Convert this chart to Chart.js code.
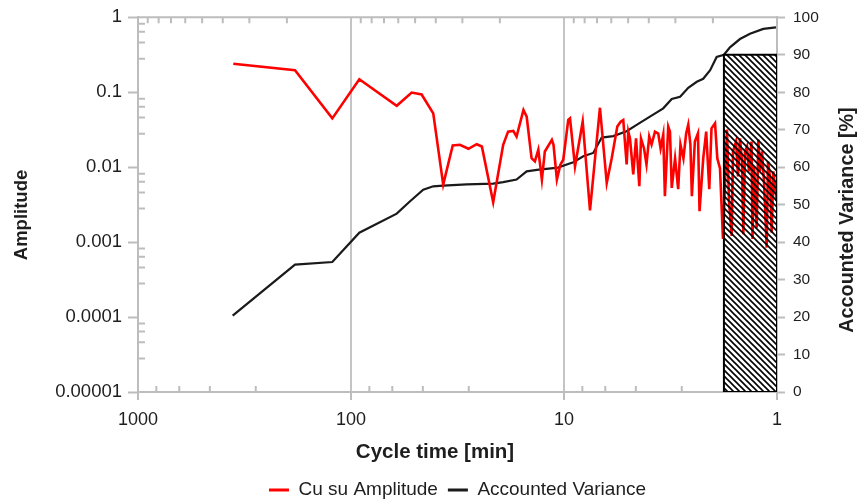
<!DOCTYPE html>
<html>
<head>
<meta charset="utf-8">
<script src="https://cdn.jsdelivr.net/npm/chart.js"></script>
<style>html,body{margin:0;padding:0;background:#fff;}canvas{display:block;}</style>
</head>
<body>
<canvas id="c" width="864" height="504"></canvas>
<script>
// ---------- data ----------
const redLabel = 'Cu su Amplitude';
const blackLabel = 'Accounted Variance';
const xTitle = 'Cycle time [min]';
const yTitle = 'Amplitude';
const y2Title = 'Accounted Variance [%]';

const redCycle = [357, 183.2, 122.4, 91.4, 61.0, 51.9, 46.6, 41.1, 36.9, 33.3, 30.8, 28.1, 25.7, 24.3, 21.5, 19.3, 18.3, 17.3, 16.7, 15.5, 14.97, 14.2, 13.7, 13.2, 12.7, 12.3, 11.4, 11.2, 10.8, 10.4, 10.08, 9.55, 9.37, 8.88, 8.17, 7.55, 6.78, 6.30, 5.97, 5.62, 5.42, 5.27, 5.08, 4.99, 4.90, 4.73, 4.59, 4.43, 4.35, 4.21, 4.10, 3.98, 3.88, 3.74, 3.61, 3.52, 3.42, 3.36, 3.24, 3.18, 3.12, 3.01, 2.91, 2.84, 2.75, 2.67, 2.61, 2.55, 2.51, 2.43, 2.35, 2.31, 2.22, 2.15, 2.08, 2.03, 1.954, 1.906, 1.852, 1.793, 1.717, 1.680, 1.632, 1.609, 1.557, 1.524, 1.492, 1.460, 1.439, 1.413, 1.383, 1.353, 1.317, 1.303, 1.282, 1.245, 1.224, 1.202, 1.176, 1.151, 1.118, 1.102, 1.079, 1.059, 1.041, 1.022, 1.005];
const redAmp = [0.240, 0.1964, 0.0448, 0.1492, 0.0660, 0.0991, 0.0932, 0.0522, 0.00586, 0.01946, 0.01988, 0.0176, 0.02025, 0.01888, 0.00341, 0.0199, 0.0298, 0.0305, 0.0256, 0.0579, 0.0472, 0.0132, 0.01194, 0.01707, 0.00683, 0.0162, 0.02315, 0.0199, 0.00683, 0.0108, 0.01258, 0.0427, 0.0448, 0.01025, 0.0405, 0.00265, 0.0621, 0.00615, 0.0132, 0.0348, 0.0405, 0.0427, 0.0109, 0.0298, 0.0241, 0.00803, 0.0243, 0.00556, 0.0241, 0.01776, 0.0109, 0.0256, 0.02006, 0.0298, 0.0281, 0.01776, 0.0272, 0.0041, 0.0348, 0.0298, 0.00528, 0.01308, 0.00508, 0.02006, 0.01308, 0.0281, 0.0369, 0.02006, 0.0041, 0.022, 0.0283, 0.00259, 0.01308, 0.0298, 0.00508, 0.033, 0.0385, 0.01308, 0.00964, 0.0011, 0.0317, 0.00352, 0.00121, 0.0162, 0.022, 0.00755, 0.0243, 0.01194, 0.00127, 0.0162, 0.01888, 0.0088, 0.022, 0.0011, 0.01025, 0.00156, 0.02337, 0.0088, 0.0162, 0.00648, 0.000845, 0.01194, 0.00755, 0.00134, 0.0088, 0.00556, 0.00352];

const blackCycle = [359.3, 183.2, 122.4, 91.4, 61.0, 52.8, 45.8, 41.1, 36.9, 28.6, 21.5, 19.3, 16.7, 14.97, 13.4, 10.67, 9.71, 9.04, 8.12, 7.29, 6.65, 5.87, 5.08, 4.56, 3.95, 3.42, 3.12, 2.85, 2.61, 2.38, 2.22, 2.06, 1.92, 1.774, 1.663, 1.492, 1.339, 1.160, 1.011];
const blackVar = [20.4, 34.0, 34.7, 42.5, 47.6, 50.9, 54.0, 54.9, 55.1, 55.4, 55.6, 56.0, 56.7, 58.9, 59.3, 59.9, 60.7, 61.3, 62.9, 63.8, 67.9, 68.3, 69.6, 71.3, 73.5, 75.7, 78.2, 78.8, 81.2, 82.8, 83.6, 85.9, 89.4, 90.0, 92.0, 94.2, 95.6, 96.9, 97.3];

// hatched band (cycle time 1.775 .. 1 min, 0 .. 90 %)
const bandCycle = [1.775, 1];
const bandTop = [90, 90];
const bandOutlineCycle = [1.775, 1.775, 1, 1, 1.775];
const bandOutlineVar = [0, 90, 90, 0, 0];

// axes ticks
const xTickValues = [1, 10, 100, 1000];
const xTickLabels = ['1', '10', '100', '1000'];
const yTickValues = [0.00001, 0.0001, 0.001, 0.01, 0.1, 1];
const yTickLabels = ['0.00001', '0.0001', '0.001', '0.01', '0.1', '1'];
const y2TickValues = [0, 10, 20, 30, 40, 50, 60, 70, 80, 90, 100];
const xTopMinor = [900, 800, 700, 600, 500, 400, 300, 200, 90, 80, 70, 60, 50, 40, 30, 20, 9, 8, 7, 6, 5, 4, 3, 2];
const xBottomMinor = [820, 640, 460, 280, 82, 64, 46, 28, 8.2, 6.4, 4.6, 2.8];
const yLeftMinor = [0.82, 0.64, 0.46, 0.28, 0.082, 0.064, 0.046, 0.028, 0.0082, 0.0064, 0.0046, 0.0028, 0.00082, 0.00064, 0.00046, 0.00028, 0.000082, 0.000064, 0.000046, 0.000028];

// ---------- styling ----------
const FONT = '"Liberation Sans", Arial, sans-serif';
const AXIS = '#bdbdbd';
const TXT = '#1e1e1e';
const CLEAR = 'rgba(0,0,0,0)';

const canvas = document.getElementById('c');
const ctx0 = canvas.getContext('2d');
const tile = document.createElement('canvas');
tile.width = 6; tile.height = 6;
(function () {
  const g = tile.getContext('2d');
  g.strokeStyle = '#000';
  g.lineWidth = 1.6;
  g.beginPath();
  g.moveTo(-1, -1); g.lineTo(7, 7);
  g.moveTo(-4, 2); g.lineTo(2, 8);
  g.moveTo(2, -4); g.lineTo(8, 2);
  g.stroke();
})();
const hatch = ctx0.createPattern(tile, 'repeat');

const decor = {
  id: 'decor',
  beforeDatasetsDraw(chart) {
    const { ctx, chartArea: a, scales } = chart;
    const x = scales.x, y = scales.y;
    ctx.save();
    ctx.strokeStyle = AXIS;
    ctx.lineWidth = 2;
    ctx.beginPath();
    ctx.moveTo(a.left - 1, a.top); ctx.lineTo(a.right + 1, a.top);
    ctx.stroke();
    ctx.beginPath();
    xTopMinor.forEach(v => { const p = x.getPixelForValue(v); ctx.moveTo(p, a.top); ctx.lineTo(p, a.top + 6); });
    xBottomMinor.forEach(v => { const p = x.getPixelForValue(v); ctx.moveTo(p, a.bottom); ctx.lineTo(p, a.bottom - 6); });
    yLeftMinor.forEach(v => { const p = y.getPixelForValue(v); ctx.moveTo(a.left, p); ctx.lineTo(a.left + 7, p); });
    ctx.stroke();
    ctx.restore();
  },
  afterDraw(chart) {
    const { ctx } = chart;
    ctx.save();
    ctx.fillStyle = TXT;
    ctx.textAlign = 'center';
    ctx.textBaseline = 'middle';
    ctx.font = 'bold 20.5px ' + FONT;
    ctx.fillText(xTitle, 435, 452.5);
    ctx.save();
    ctx.translate(21.5, 215);
    ctx.rotate(-Math.PI / 2);
    ctx.font = 'bold 18.5px ' + FONT;
    ctx.fillText(yTitle, 0, 0);
    ctx.restore();
    ctx.save();
    ctx.translate(848, 220);
    ctx.rotate(-Math.PI / 2);
    ctx.font = 'bold 19.8px ' + FONT;
    ctx.fillText(y2Title, 0, 0);
    ctx.restore();
    ctx.restore();
  }
};

Chart.defaults.font.family = FONT;
Chart.defaults.color = TXT;

new Chart(canvas, {
  type: 'line',
  data: {
    datasets: [
      {
        label: redLabel,
        data: redCycle.map((c, i) => ({ x: c, y: redAmp[i] })),
        yAxisID: 'y',
        borderColor: '#ff0000',
        backgroundColor: '#ff0000',
        borderWidth: 2.6,
        pointRadius: 0,
        tension: 0,
        fill: false,
        order: 2
      },
      {
        label: blackLabel,
        data: blackCycle.map((c, i) => ({ x: c, y: blackVar[i] })),
        yAxisID: 'y2',
        borderColor: '#1a1a1a',
        backgroundColor: '#1a1a1a',
        borderWidth: 2.2,
        pointRadius: 0,
        tension: 0,
        fill: false,
        order: 3
      },
      {
        label: 'band',
        data: bandCycle.map((c, i) => ({ x: c, y: bandTop[i] })),
        yAxisID: 'y2',
        borderColor: CLEAR,
        backgroundColor: hatch,
        borderWidth: 0,
        pointRadius: 0,
        tension: 0,
        fill: 'origin',
        order: 1
      },
      {
        label: 'band outline',
        data: bandOutlineCycle.map((c, i) => ({ x: c, y: bandOutlineVar[i] })),
        yAxisID: 'y2',
        borderColor: '#000',
        backgroundColor: CLEAR,
        borderWidth: 2,
        borderJoinStyle: 'miter',
        pointRadius: 0,
        tension: 0,
        fill: false,
        order: 0
      }
    ]
  },
  options: {
    responsive: false,
    animation: false,
    devicePixelRatio: 1,
    layout: { padding: { left: 0, right: 0, top: 15, bottom: -5.5 } },
    plugins: {
      tooltip: { enabled: false },
      legend: {
        position: 'bottom',
        fullSize: false,
        labels: {
          font: { size: 19 },
          color: TXT,
          boxWidth: 20,
          boxHeight: 3,
          padding: 10,
          generateLabels(chart) {
            const items = Chart.defaults.plugins.legend.labels.generateLabels(chart);
            return items.filter(it => it.datasetIndex < 2)
              .map(it => Object.assign({}, it, { fillStyle: it.strokeStyle, lineWidth: 0 }));
          }
        }
      }
    },
    scales: {
      x: {
        type: 'logarithmic',
        position: 'bottom',
        reverse: true,
        min: 1,
        max: 1000,
        afterBuildTicks(s) { s.ticks = xTickValues.map(v => ({ value: v, major: true })); },
        afterFit(s) { s.height = 78.5; },
        ticks: {
          autoSkip: false,
          maxRotation: 0,
          padding: 9,
          font: { size: 18 },
          color: TXT,
          callback: v => xTickLabels[xTickValues.indexOf(v)]
        },
        grid: {
          color: c => (c.tick && (c.tick.value === 10 || c.tick.value === 100)) ? '#c4c4c4' : CLEAR,
          lineWidth: 2,
          tickLength: 8,
          tickColor: AXIS,
          tickWidth: 2
        },
        border: { color: AXIS, width: 2 }
      },
      y: {
        type: 'logarithmic',
        position: 'left',
        min: 0.00001,
        max: 1,
        afterBuildTicks(s) { s.ticks = yTickValues.map(v => ({ value: v, major: true })); },
        afterFit(s) { s.width = 138; },
        ticks: {
          autoSkip: false,
          padding: 6,
          font: { size: 18.5 },
          color: TXT,
          callback: v => yTickLabels[yTickValues.indexOf(v)]
        },
        grid: {
          drawOnChartArea: false,
          tickLength: 10,
          tickColor: AXIS,
          tickWidth: 2
        },
        border: { color: AXIS, width: 2 }
      },
      y2: {
        type: 'linear',
        position: 'right',
        min: 0,
        max: 100,
        afterBuildTicks(s) { s.ticks = y2TickValues.map(v => ({ value: v })); },
        afterFit(s) { s.width = 87; },
        ticks: {
          autoSkip: false,
          padding: 8,
          font: { size: 15.5 },
          color: TXT
        },
        grid: {
          drawOnChartArea: false,
          tickLength: 8,
          tickColor: AXIS,
          tickWidth: 2
        },
        border: { color: AXIS, width: 2 }
      }
    }
  },
  plugins: [decor]
});
</script>
</body>
</html>
